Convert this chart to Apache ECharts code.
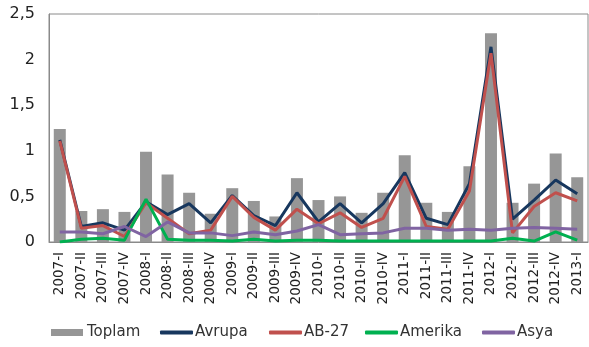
<!DOCTYPE html>
<html><head><meta charset="utf-8">
<script src="https://cdn.jsdelivr.net/npm/echarts@6/dist/echarts.min.js"></script>
<style>html,body{margin:0;padding:0;background:#fff}#c{width:589px;height:347px}</style>
</head><body><div id="c"></div>
<script>
const categories = ['2007-I','2007-II','2007-III','2007-IV','2008-I','2008-II','2008-III','2008-IV','2009-I','2009-II','2009-III','2009-IV','2010-I','2010-II','2010-III','2010-IV','2011-I','2011-II','2011-III','2011-IV','2012-I','2012-II','2012-III','2012-IV','2013-I'];
const toplam  = [1.24,0.34,0.36,0.33,0.99,0.74,0.54,0.31,0.59,0.45,0.28,0.70,0.46,0.50,0.32,0.54,0.95,0.43,0.33,0.83,2.29,0.43,0.64,0.97,0.71];
const avrupa  = [1.12,0.17,0.21,0.13,0.44,0.30,0.42,0.21,0.51,0.29,0.18,0.54,0.22,0.42,0.21,0.42,0.76,0.26,0.19,0.64,2.14,0.25,0.46,0.68,0.53];
const ab27    = [1.11,0.15,0.18,0.06,0.43,0.26,0.09,0.13,0.50,0.27,0.13,0.36,0.20,0.32,0.16,0.26,0.72,0.17,0.14,0.56,2.07,0.10,0.39,0.54,0.45];
const amerika = [0.00,0.03,0.04,0.02,0.47,0.03,0.02,0.02,0.01,0.03,0.01,0.02,0.02,0.01,0.01,0.01,0.01,0.01,0.01,0.01,0.01,0.04,0.01,0.11,0.02];
const asya    = [0.11,0.11,0.09,0.17,0.06,0.22,0.10,0.10,0.07,0.11,0.08,0.12,0.19,0.08,0.09,0.10,0.15,0.15,0.13,0.14,0.13,0.15,0.16,0.15,0.14];
const yTicks = ['0','0,5','1','1,5','2','2,5'];
const seriesNames = ['Toplam','Avrupa','AB-27','Amerika','Asya'];

const font = 'DejaVu Sans';
const chart = echarts.init(document.getElementById('c'));
const line = (name, data, color) => ({
  name, type:'line', data, symbol:'none', smooth:false,
  lineStyle:{color, width:3}, itemStyle:{color}
});
const legendLefts = [51, 160, 269, 365, 482];
const legends = seriesNames.map((n, i) => ({
  top:325, left:legendLefts[i], itemGap:0, itemWidth:i===0?32:33, itemHeight:i===0?7:4,
  padding:0,
  textStyle:{fontFamily:font, fontSize:15, color:'#333', padding:[0,0,0,i===0?-1:-3]},
  data:[{name:n, icon: i===0 ? 'rect' : 'roundRect'}]
}));
chart.setOption({
  animation:false,
  grid:{left:49, right:1, top:14, bottom:105, show:true, borderColor:'#8a8a8a', borderWidth:1},
  legend: legends,
  xAxis:{
    type:'category', data:categories,
    axisLine:{lineStyle:{color:'#8a8a8a'}}, axisTick:{show:false},
    axisLabel:{rotate:90, interval:0, fontFamily:font, fontSize:13.5, color:'#222', margin:10}
  },
  yAxis:{
    type:'value', min:0, max:2.5, interval:0.5,
    splitLine:{show:false},
    axisLine:{show:true, lineStyle:{color:'#8a8a8a'}}, axisTick:{show:false},
    axisLabel:{fontFamily:font, fontSize:16, color:'#222', margin:14,
      formatter:v=>yTicks[Math.round(v/0.5)]}
  },
  series:[
    {name:'Toplam', type:'bar', data:toplam, barWidth:12, itemStyle:{color:'#969696'}},
    line('Avrupa', avrupa, '#17375E'),
    line('AB-27', ab27, '#C0504D'),
    line('Amerika', amerika, '#00B050'),
    line('Asya', asya, '#8064A2')
  ]
});
</script></body></html>
